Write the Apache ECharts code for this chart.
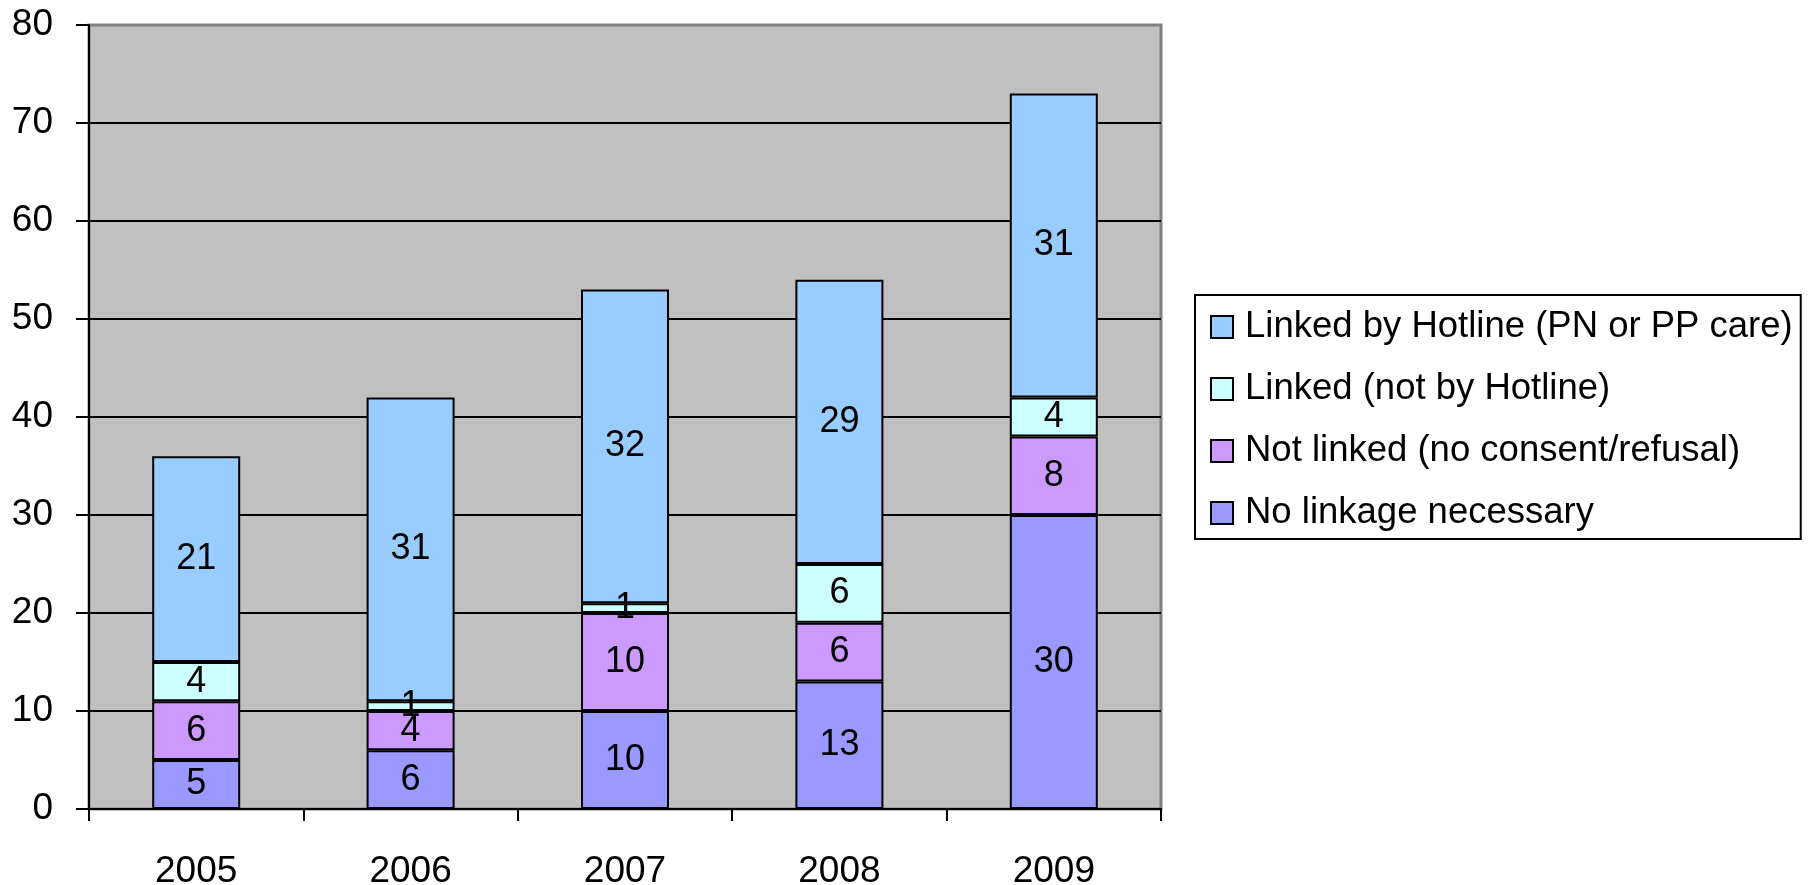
<!DOCTYPE html>
<html>
<head>
<meta charset="utf-8">
<script src="https://cdn.jsdelivr.net/npm/echarts@6/dist/echarts.min.js"></script>
<style>
  html, body { margin: 0; padding: 0; background: #fff; }
  #chart { width: 1808px; height: 885px; }
</style>
</head>
<body>
<div id="chart"></div>
<script>
// Years on the category axis
const years = ['2005', '2006', '2007', '2008', '2009'];

// Stacked series, bottom to top
const noLinkage = [5, 6, 10, 13, 30];
const notLinked = [6, 4, 10, 6, 8];
const linkedOther = [4, 1, 1, 6, 4];
const linkedHotline = [21, 31, 32, 29, 31];

const seriesNames = [
  'No linkage necessary',
  'Not linked (no consent/refusal)',
  'Linked (not by Hotline)',
  'Linked by Hotline (PN or PP care)'
];
const seriesColors = ['#9999FF', '#CC99FF', '#CCFFFF', '#99CCFF'];
const seriesValues = [noLinkage, notLinked, linkedOther, linkedHotline];

const FONT = "'Liberation Sans', Arial, sans-serif";

const chart = echarts.init(document.getElementById('chart'), null, { renderer: 'canvas' });

// Gridline colours: black for every level, grey along the top edge
const gridLineColors = ['#000', '#000', '#000', '#000', '#000', '#000', '#000', '#000', '#808080'];

chart.setOption({
  animation: false,
  backgroundColor: '#ffffff',
  textStyle: { fontFamily: FONT },
  grid: {
    left: 89, right: 647, top: 25, bottom: 76,
    outerBoundsMode: 'none',
    containLabel: false,
    show: true,
    backgroundColor: '#C0C0C0',
    borderColor: '#808080',
    borderWidth: 3
  },
  legend: {
    orient: 'vertical',
    left: 1195,
    top: 295,
    padding: [12, 8, 6, 15],
    itemGap: 22,
    itemWidth: 22,
    itemHeight: 22,
    backgroundColor: '#ffffff',
    borderColor: '#000',
    borderWidth: 2,
    borderRadius: 0,
    icon: 'rect',
    itemStyle: { borderColor: '#000', borderWidth: 2 },
    textStyle: {
      fontFamily: FONT, fontSize: 36.5, color: '#000',
      lineHeight: 40, padding: [0, 0, 0, 7]
    },
    data: [seriesNames[3], seriesNames[2], seriesNames[1], seriesNames[0]]
  },
  xAxis: {
    type: 'category',
    data: years,
    axisLine: { lineStyle: { color: '#000', width: 2 } },
    axisTick: { show: true, length: 12, lineStyle: { color: '#000', width: 2 } },
    axisLabel: { fontFamily: FONT, fontSize: 37, color: '#000', margin: 44 },
    splitLine: { show: false }
  },
  yAxis: {
    type: 'value',
    min: 0, max: 80, interval: 10,
    axisLine: { show: true, lineStyle: { color: '#000', width: 2 } },
    axisTick: { show: true, length: 13, lineStyle: { color: '#000', width: 2 } },
    axisLabel: { fontFamily: FONT, fontSize: 37, color: '#000', margin: 36 },
    splitLine: { show: true, lineStyle: { color: gridLineColors, width: 2 } }
  },
  series: seriesNames.map((name, i) => ({
    name: name,
    type: 'bar',
    stack: 'total',
    barWidth: 88,
    data: seriesValues[i],
    itemStyle: { color: seriesColors[i], borderColor: '#000', borderWidth: 2 },
    label: {
      show: true,
      position: 'inside',
      fontFamily: FONT,
      fontSize: 36,
      color: '#000'
    }
  }))
});
</script>
</body>
</html>
